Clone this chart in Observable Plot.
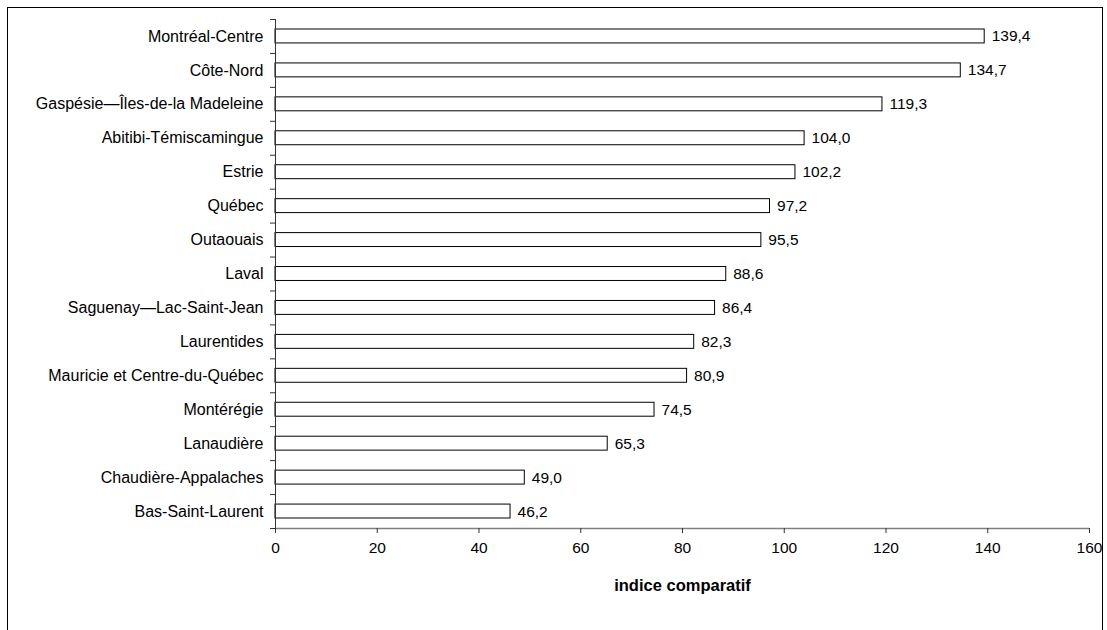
<!DOCTYPE html>
<html>
<head>
<meta charset="utf-8">
<script src="https://cdn.jsdelivr.net/npm/d3@7"></script>
<script src="https://cdn.jsdelivr.net/npm/@observablehq/plot@0.6"></script>
<style>
  html, body { margin: 0; padding: 0; background: #fff; overflow: hidden; }
  #wrap { position: relative; width: 1107px; height: 630px; }
  #frame { position: absolute; left: 7px; top: 7px; width: 1096px; height: 700px; border: 1px solid #000; box-sizing: border-box; pointer-events: none; }
  #chart { position: absolute; left: 0; top: 0; }
  g[aria-label="x-axis label"] text { font-weight: bold; font-size: 16.5px; }
</style>
</head>
<body>
<div id="wrap"><div id="chart"></div><div id="frame"></div></div>
<script>
const regions = [
  "Montréal-Centre",
  "Côte-Nord",
  "Gaspésie—Îles-de-la Madeleine",
  "Abitibi-Témiscamingue",
  "Estrie",
  "Québec",
  "Outaouais",
  "Laval",
  "Saguenay—Lac-Saint-Jean",
  "Laurentides",
  "Mauricie et Centre-du-Québec",
  "Montérégie",
  "Lanaudière",
  "Chaudière-Appalaches",
  "Bas-Saint-Laurent"
];
const values = [139.4, 134.7, 119.3, 104.0, 102.2, 97.2, 95.5, 88.6, 86.4, 82.3, 80.9, 74.5, 65.3, 49.0, 46.2];
const xTicks = [0, 20, 40, 60, 80, 100, 120, 140, 160];
const xLabel = "indice comparatif";

const data = regions.map((r, i) => ({region: r, value: values[i], i}));
const n = regions.length;
const fmt = v => v.toFixed(1).replace(".", ",");

const chart = Plot.plot({
  width: 1107,
  height: 630,
  marginLeft: 275,
  marginRight: 18,
  marginTop: 19,
  marginBottom: 102,
  style: {fontFamily: "'Liberation Sans', Arial, sans-serif", fontSize: "15.5px", color: "#000", background: "transparent"},
  x: {domain: [0, 160]},
  y: {domain: [0, n], reverse: true},
  marks: [
    Plot.rectX(data, {x1: 0, x2: "value", y1: d => d.i, y2: d => d.i + 1, insetTop: 10, insetBottom: 10, fill: "white", stroke: "black", strokeWidth: 1}),
    Plot.text(data, {x: "value", y: d => d.i + 0.5, text: d => fmt(d.value), dx: 7, textAnchor: "start", fill: "black", fontSize: 15.5}),
    Plot.ruleX([0], {stroke: "#333"}),
    Plot.ruleY([n], {stroke: "#808080", strokeWidth: 1.5}),
    Plot.axisY({ticks: d3.range(n + 1), tickSize: 5, tickFormat: () => "", stroke: "#333", label: null}),
    Plot.axisY({ticks: d3.range(n).map(i => i + 0.5), tickSize: 0, tickPadding: 12, tickFormat: t => regions[Math.round(t - 0.5)], label: null, fill: "black", fontSize: 16}),
    Plot.axisX({ticks: xTicks, tickSize: 5, tickPadding: 8, stroke: "#333", fill: "black", fontSize: 15.5, label: xLabel, labelAnchor: "center", labelOffset: 62, labelArrow: "none"})
  ]
});
document.getElementById("chart").appendChild(chart);
</script>
</body>
</html>
